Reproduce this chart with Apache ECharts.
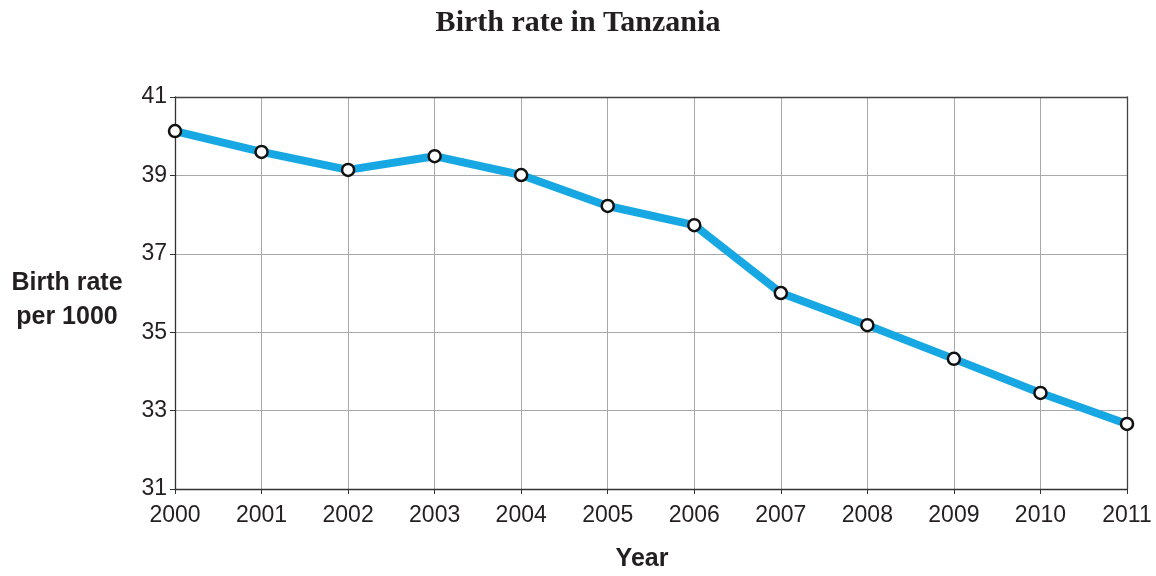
<!DOCTYPE html>
<html>
<head>
<meta charset="utf-8">
<script src="https://cdn.jsdelivr.net/npm/echarts@6/dist/echarts.min.js"></script>
<style>html,body{margin:0;padding:0;background:#fff}#c{width:1156px;height:576px}</style>
</head>
<body>
<div id="c"></div>
<script>
const years = ['2000','2001','2002','2003','2004','2005','2006','2007','2008','2009','2010','2011'];
const birthRate = [40.13, 39.6, 39.14, 39.49, 39.01, 38.22, 37.73, 36.0, 35.18, 34.32, 33.45, 32.66];
const titleText = 'Birth rate in Tanzania';
const yName = 'Birth rate\nper 1000';
const xName = 'Year';

const txt = '#231f20';
const chart = echarts.init(document.getElementById('c'));
chart.setOption({
  animation: false,
  backgroundColor: '#fff',
  title: {
    text: titleText, left: 'center', top: 3,
    textStyle: {fontFamily: 'Liberation Serif', fontWeight: 'bold', fontSize: 30, color: txt}
  },
  grid: {left: 175, right: 29, top: 97, bottom: 87},
  graphic: [{
    type: 'text', x: 67, y: 266,
    style: {text: yName, fontFamily: 'Liberation Sans', fontWeight: 'bold', fontSize: 25, fill: txt, align: 'center', lineHeight: 34}
  }, {
    type: 'text', x: 642, y: 547,
    style: {text: xName, fontFamily: 'Liberation Sans', fontWeight: 'bold', fontSize: 25, fill: txt, align: 'center'}
  }],
  xAxis: [{
    type: 'category', data: years, boundaryGap: false,
    axisLine: {lineStyle: {color: '#333', width: 1.3}},
    axisTick: {show: true, length: 5, lineStyle: {color: '#333'}},
    axisLabel: {fontFamily: 'Liberation Sans', fontSize: 23, color: txt, margin: 15},
    splitLine: {show: true, lineStyle: {color: '#a8a8a8', width: 1}}
  }, {
    type: 'category', data: years, boundaryGap: false, position: 'top',
    axisLine: {show: true, lineStyle: {color: '#444', width: 1.3}},
    axisTick: {show: false}, axisLabel: {show: false}, splitLine: {show: false}
  }],
  yAxis: [{
    type: 'value', min: 31, max: 41, interval: 2,
    axisLine: {show: true, lineStyle: {color: '#333', width: 1.3}},
    axisTick: {show: true, length: 5, lineStyle: {color: '#333'}},
    axisLabel: {fontFamily: 'Liberation Sans', fontSize: 23, color: txt, margin: 8},
    splitLine: {show: true, lineStyle: {color: '#a8a8a8', width: 1}}
  }, {
    type: 'value', min: 31, max: 41, interval: 2, position: 'right',
    axisLine: {show: true, lineStyle: {color: '#444', width: 1.3}},
    axisTick: {show: false}, axisLabel: {show: false}, splitLine: {show: false}
  }],
  series: [{
    type: 'line', data: birthRate,
    lineStyle: {color: '#17a8e3', width: 8},
    symbol: 'circle', symbolSize: 12,
    itemStyle: {color: '#fff', borderColor: '#111', borderWidth: 2.5},
    z: 3
  }]
});
</script>
</body>
</html>
